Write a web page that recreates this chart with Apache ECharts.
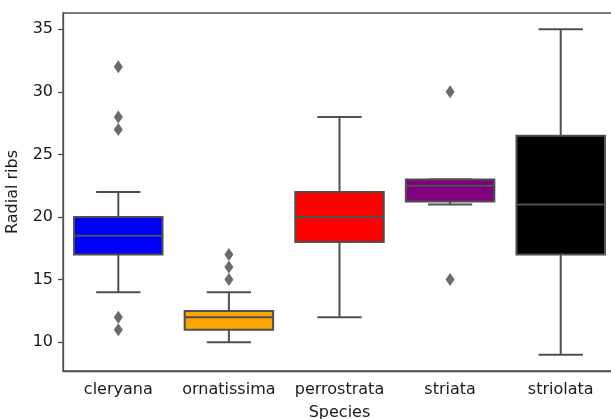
<!DOCTYPE html>
<html>
<head>
<meta charset="utf-8">
<script src="https://cdn.jsdelivr.net/npm/echarts@6/dist/echarts.min.js"></script>
<style>html,body{margin:0;padding:0;background:#fff;overflow:hidden}#c{width:611px;height:419px}</style>
</head>
<body>
<div id="c"></div>
<script>
const categories = ['cleryana', 'ornatissima', 'perrostrata', 'striata', 'striolata'];
const lowWhisker = [14, 10, 12, 21, 9];
const q1 = [17, 11, 18, 21.25, 17];
const median = [18.5, 12, 20, 22.5, 21];
const q3 = [20, 12.5, 22, 23, 26.5];
const highWhisker = [22, 14, 28, 23, 35];
const outliers = [[32, 28, 27, 12, 11], [17, 16, 15], [], [30, 15], []];
const boxColors = ['#0000ff', '#ffa500', '#ff0000', '#800080', '#000000'];
const yTicks = [10, 15, 20, 25, 30, 35];

const LINE = '#4f4f4f';
const boxData = categories.map((c, i) => [i, lowWhisker[i], q1[i], median[i], q3[i], highWhisker[i]]);
const outlierData = [];
outliers.forEach((arr, i) => arr.forEach(v => outlierData.push([i, v])));

const chart = echarts.init(document.getElementById('c'), null, {renderer: 'canvas'});
chart.setOption({
  animation: false,
  grid: {left: 63, width: 553, top: 13, height: 358, outerBoundsMode: 'none', containLabel: false,
    show: true, borderColor: LINE, borderWidth: 1.3},
  xAxis: {
    type: 'category', data: categories, boundaryGap: true,
    name: 'Species', nameLocation: 'middle', nameGap: 34,
    nameTextStyle: {fontFamily: 'DejaVu Sans', fontSize: 16, color: '#1a1a1a', verticalAlign: 'top'},
    axisLine: {lineStyle: {color: LINE, width: 1.3}},
    axisTick: {alignWithLabel: true, length: 5, lineStyle: {color: LINE, width: 1.3}},
    axisLabel: {fontFamily: 'DejaVu Sans', fontSize: 16, color: '#1a1a1a', margin: 11, interval: 0},
    splitLine: {show: false}
  },
  yAxis: {
    type: 'value', min: 7.7, max: 36.3,
    name: 'Radial ribs', nameLocation: 'middle', nameGap: 42,
    nameTextStyle: {fontFamily: 'DejaVu Sans', fontSize: 16, color: '#1a1a1a'},
    axisLine: {show: true, lineStyle: {color: LINE, width: 1.3}},
    axisTick: {show: true, length: 5, customValues: yTicks, lineStyle: {color: LINE, width: 1.3}},
    axisLabel: {fontFamily: 'DejaVu Sans', fontSize: 16, color: '#1a1a1a', margin: 10, customValues: yTicks},
    splitLine: {show: false}
  },
  series: [
    {
      type: 'custom',
      data: boxData,
      encode: {x: 0, y: [1, 2, 3, 4, 5]},
      renderItem: function (params, api) {
        const i = api.value(0);
        const band = api.size([1, 0])[0];
        const bw = band * 0.8, cw = bw / 2;
        const pLow = api.coord([i, api.value(1)]);
        const pQ1 = api.coord([i, api.value(2)]);
        const pMed = api.coord([i, api.value(3)]);
        const pQ3 = api.coord([i, api.value(4)]);
        const pHigh = api.coord([i, api.value(5)]);
        const cx = pQ1[0];
        const ls = {stroke: LINE, lineWidth: 2};
        return {
          type: 'group',
          children: [
            {type: 'line', shape: {x1: cx, y1: pQ1[1], x2: cx, y2: pLow[1]}, style: ls},
            {type: 'line', shape: {x1: cx, y1: pQ3[1], x2: cx, y2: pHigh[1]}, style: ls},
            {type: 'line', shape: {x1: cx - cw / 2, y1: pLow[1], x2: cx + cw / 2, y2: pLow[1]}, style: ls},
            {type: 'line', shape: {x1: cx - cw / 2, y1: pHigh[1], x2: cx + cw / 2, y2: pHigh[1]}, style: ls},
            {type: 'rect', shape: {x: cx - bw / 2, y: pQ3[1], width: bw, height: pQ1[1] - pQ3[1]},
              style: {fill: boxColors[params.dataIndex], stroke: LINE, lineWidth: 2}},
            {type: 'line', shape: {x1: cx - bw / 2, y1: pMed[1], x2: cx + bw / 2, y2: pMed[1]}, style: ls}
          ]
        };
      }
    },
    {
      type: 'scatter',
      data: outlierData,
      symbol: 'diamond',
      symbolSize: [9, 13],
      itemStyle: {color: '#464646'}
    }
  ]
});
</script>
</body>
</html>
